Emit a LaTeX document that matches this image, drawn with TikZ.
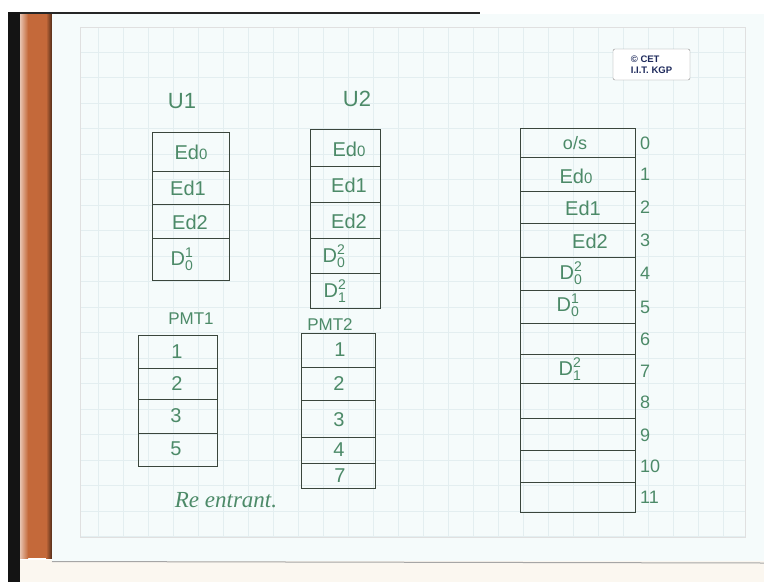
\documentclass[tikz,border=0pt]{standalone}
\usepackage{amsmath}
\usepackage{fontspec}
\setmainfont{Liberation Sans}
\newfontfamily\hand{Liberation Sans}
\newfontfamily\cursive{Liberation Serif}
\definecolor{ink}{HTML}{3A463C}
\definecolor{txt}{HTML}{4C8A68}
\definecolor{paper}{HTML}{F5FBFB}
\definecolor{gridc}{HTML}{E3EEF0}
\definecolor{wood}{HTML}{C4693A}
\definecolor{navy}{HTML}{1E2A5C}
\definecolor{cream}{HTML}{FBF7F0}
\newcommand{\Dsym}[2]{$\text{D}^{\text{#1}}_{\text{#2}}$}
\newcommand{\Edz}{Ed{\fontsize{15}{15}\selectfont 0}}
\begin{document}
\begin{tikzpicture}[x=1pt,y=-1pt,
  cellline/.style={draw=ink,line width=0.8pt},
  lbl/.style={text=txt,font=\hand\fontsize{20}{20}\selectfont,inner sep=0pt},
  idx/.style={text=txt,font=\hand\fontsize{18}{18}\selectfont,inner sep=0pt,anchor=west},
  gridl/.style={draw=gridc,line width=0.5pt}]
\useasboundingbox (0,0) rectangle (764,582);
% backgrounds
\fill[white] (0,0) rectangle (764,582);
\fill[cream] (20,560) rectangle (764,582);
\fill[black!92] (8,12) rectangle (20,582);
\fill[black!85] (20,12) rectangle (480,14);
\shade[left color=wood!40!white, right color=wood] (20,14) rectangle (28,558);
\fill[wood] (28,14) rectangle (46,558);
\shade[left color=wood, right color=wood!40!black] (46,14) rectangle (52,558);
\fill[paper] (52,14) rectangle (764,561);
\draw[black!35,line width=1pt] (52,561.5) -- (764,563);
% grid
\foreach \gx in {98,123,...,723} \draw[gridl] (\gx,27) -- (\gx,537);
\foreach \gy in {52,77.5,...,537} \draw[gridl] (80,\gy) -- (745,\gy);
\draw[gridl,draw=black!12] (80,27) rectangle (745,537);
% logo
\draw[black!45,fill=white,rounded corners=2pt] (613,49) rectangle (690,80);
\node[text=navy,font=\bfseries\fontsize{9.5}{11}\selectfont,align=left,inner sep=0pt] (logo) at (651.5,64.5) {\textcopyright\ CET\\I.I.T. KGP};
% titles
\node[lbl,font=\hand\fontsize{22}{22}\selectfont] (tu1) at (182,101) {U1};
\node[lbl,font=\hand\fontsize{22}{22}\selectfont] (tu2) at (357,99) {U2};
\node[lbl,font=\hand\fontsize{17}{17}\selectfont] (tp1) at (191,319) {PMT1};
\node[lbl,font=\hand\fontsize{17}{17}\selectfont] (tp2) at (330,325) {PMT2};
% U1 table
\draw[cellline] (152,132) rectangle (229,280);
\foreach \yy in {171,204,238} \draw[cellline] (152,\yy) -- (229,\yy);
\node[lbl] (u1a) at (191,152) {\Edz};
\node[lbl] (u1b) at (188,188) {Ed1};
\node[lbl] (u1c) at (190,222) {Ed2};
\node[lbl] (u1d) at (182,259) {\Dsym{1}{0}};
% U2 table
\draw[cellline] (310,129) rectangle (380,308);
\foreach \yy in {166,202,238,273} \draw[cellline] (310,\yy) -- (380,\yy);
\node[lbl] (u2a) at (349,149) {\Edz};
\node[lbl] (u2b) at (349,185) {Ed1};
\node[lbl] (u2c) at (349,221) {Ed2};
\node[lbl] (u2d) at (334,256) {\Dsym{2}{0}};
\node[lbl] (u2e) at (335,291) {\Dsym{2}{1}};
% PMT1 table
\draw[cellline] (138,335) rectangle (217,466);
\foreach \yy in {368,399,433} \draw[cellline] (138,\yy) -- (217,\yy);
\node[lbl] (p1a) at (177,352) {1};
\node[lbl] (p1b) at (177,384) {2};
\node[lbl] (p1c) at (176,416) {3};
\node[lbl] (p1d) at (176,449) {5};
% PMT2 table
\draw[cellline] (301,333) rectangle (375,488);
\foreach \yy in {367,400,437,463} \draw[cellline] (301,\yy) -- (375,\yy);
\node[lbl] (p2a) at (340,350) {1};
\node[lbl] (p2b) at (339,384) {2};
\node[lbl] (p2c) at (339,420) {3};
\node[lbl] (p2d) at (339,450) {4};
\node[lbl] (p2e) at (340,476) {7};
% memory
\draw[cellline] (520,128) rectangle (635,512);
\foreach \yy in {157,191,223,257,290,323,354,383,418,450,482} \draw[cellline] (520,\yy) -- (635,\yy);
\node[lbl,font=\hand\fontsize{18}{18}\selectfont] (m0) at (575,143) {o/s};
\node[lbl] (m1) at (576,176) {\Edz};
\node[lbl] (m2) at (583,208) {Ed1};
\node[lbl] (m3) at (590,241) {Ed2};
\node[lbl] (m4) at (571,273) {\Dsym{2}{0}};
\node[lbl] (m5) at (568,305) {\Dsym{1}{0}};
\node[lbl] (m7) at (570,369) {\Dsym{2}{1}};
\foreach \i/\yy in {0/143,1/174,2/207,3/240,4/273,5/307,6/339,7/371,8/402,9/435,10/466,11/497}
  \node[idx] (n\i) at (640,\yy) {\i};
% caption
\node[text=txt,font=\cursive\itshape\fontsize{23}{23}\selectfont,inner sep=0pt] (re) at (226,500) {Re entrant.};
\end{tikzpicture}
\end{document}
